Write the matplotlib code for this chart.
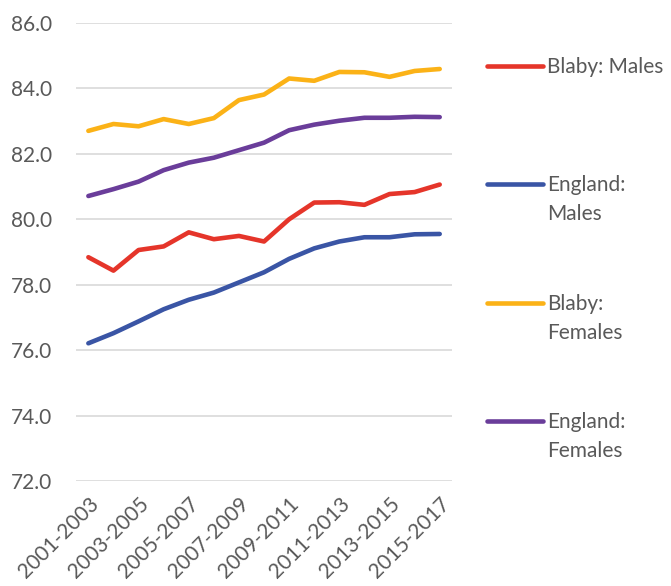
import matplotlib.pyplot as plt
from matplotlib.lines import Line2D

periods = [f"{y}-{y + 2}" for y in range(2001, 2016)]

blaby_males = [78.84, 78.43, 79.06, 79.17, 79.60, 79.39, 79.49, 79.32,
               80.00, 80.51, 80.52, 80.44, 80.77, 80.83, 81.06]
england_males = [76.21, 76.52, 76.88, 77.25, 77.54, 77.76, 78.07, 78.38,
                 78.79, 79.11, 79.32, 79.45, 79.45, 79.54, 79.55]
blaby_females = [82.70, 82.91, 82.84, 83.06, 82.91, 83.09, 83.64, 83.81,
                 84.30, 84.23, 84.50, 84.49, 84.35, 84.53, 84.59]
england_females = [80.71, 80.92, 81.15, 81.50, 81.73, 81.88, 82.11, 82.34,
                   82.72, 82.89, 83.01, 83.10, 83.10, 83.13, 83.12]

series = [
    ("Blaby: Males", blaby_males, "#E5352A"),
    ("England:\nMales", england_males, "#3A55A5"),
    ("Blaby:\nFemales", blaby_females, "#FBB217"),
    ("England:\nFemales", england_females, "#6A3D9A"),
]

text_color = "#595959"
fsize = 15
plt.rcParams['font.family'] = ['Lato', 'DejaVu Sans']

fig = plt.figure(figsize=(6.71, 5.86), dpi=100)
ax = fig.add_axes([0.113, 0.179, 0.561, 0.782])

x = list(range(len(periods)))
for label, vals, color in series:
    ax.plot(x, vals, color=color, lw=3.3, solid_capstyle='round',
            solid_joinstyle='round', zorder=3)

ax.set_ylim(72, 86)
ax.set_yticks([72, 74, 76, 78, 80, 82, 84, 86])
ax.set_yticklabels([f"{v:.1f}" for v in ax.get_yticks()])
ax.set_xlim(-0.5, len(periods) - 0.5)
ax.set_xticks(x[::2])
ax.set_xticklabels(periods[::2], rotation=45, ha='right',
                   rotation_mode='anchor')
ax.grid(axis='y', color='#D9D9D9', lw=1.2, zorder=0)
ax.tick_params(axis='both', length=0, labelsize=fsize, colors=text_color)
ax.tick_params(axis='y', pad=17)
ax.tick_params(axis='x', pad=9)
for s in ax.spines.values():
    s.set_visible(False)

# legend drawn by hand so the handle sits on the first text line
W, H = 671, 586
ys = [66, 184, 303, 421]
for (label, vals, color), yp in zip(series, ys):
    fy = 1 - yp / H
    fig.add_artist(Line2D([487 / W, 543 / W], [fy, fy], color=color, lw=3.3,
                          solid_capstyle='round'))
    for i, part in enumerate(label.split("\n")):
        fig.text(547 / W, 1 - (yp + 7 + 29 * i) / H, part, color=text_color,
                 fontsize=fsize, va='baseline', ha='left')

fig.savefig("out.png", dpi=100)
